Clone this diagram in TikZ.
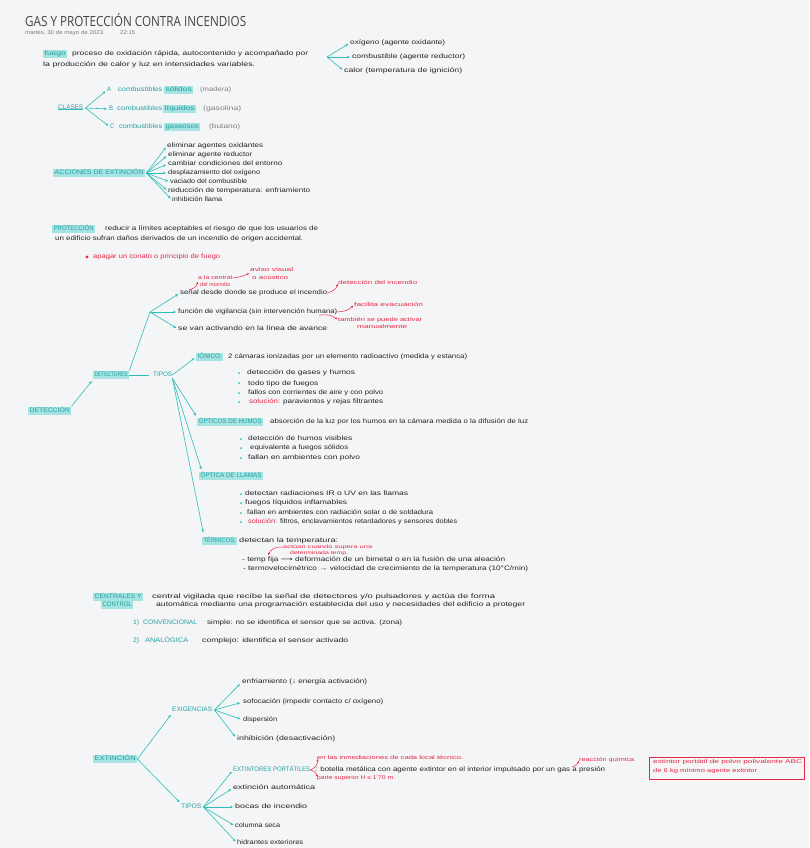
\documentclass[tikz,border=0pt]{standalone}
\usepackage{fontspec}
\usepackage{graphicx}
\setmainfont{Liberation Sans}
\newfontfamily\titlefont{Open Sans}
\newfontfamily\symfont{DejaVu Sans}
\usetikzlibrary{arrows.meta}
\definecolor{bgc}{RGB}{244,245,247}
\definecolor{tealc}{RGB}{45,190,186}
\definecolor{tealtx}{RGB}{35,160,160}
\definecolor{hlc}{RGB}{165,228,226}
\definecolor{redc}{RGB}{230,40,70}
\definecolor{inkc}{RGB}{35,35,35}
\definecolor{greyc}{RGB}{125,125,125}
\newcommand{\hw}[2]{\resizebox{#1pt}{\height}{#2}}
\newcommand{\handfont}{\fontsize{6.5}{7}\selectfont}
\newcommand{\smallhand}{\fontsize{5.5}{6}\selectfont}
\newcommand{\tinyhand}{\fontsize{4.8}{5}\selectfont}
\tikzset{
 tx/.style={anchor=west, inner sep=0pt, font=\handfont, text=inkc, text height=4.8pt, text depth=1.4pt},
 tt/.style={tx, text=tealtx},
 gt/.style={tx, text=greyc},
 rt/.style={tx, text=redc},
 rts/.style={tx, text=redc, font=\smallhand, text height=4pt, text depth=1.2pt},
 rtt/.style={tx, text=redc, font=\tinyhand, text height=3.5pt, text depth=1pt},
 hl/.style={anchor=west, fill=hlc, text=tealtx, inner xsep=1.5pt, inner ysep=1.2pt, font=\handfont, text height=5pt, text depth=1.5pt},
 arr/.style={draw=tealc, line width=0.6pt, -{Stealth[length=3pt,width=2.6pt]}, shorten >=2pt},
 ln/.style={draw=tealc, line width=0.6pt},
 rarr/.style={draw=redc, line width=0.5pt, -{Stealth[length=2.5pt,width=2.2pt]}, shorten >=1pt},
}
\begin{document}
\begin{tikzpicture}[x=1pt,y=-1pt]
\fill[bgc] (0,0) rectangle (809,848);
\useasboundingbox (0,0) rectangle (809,848);

% title
\node[anchor=west, inner sep=0pt, font=\titlefont\fontsize{14}{16}\selectfont, text=inkc!85] (title) at (25,20) {\hw{221}{GAS Y PROTECCIÓN CONTRA INCENDIOS}};
\node[anchor=west, inner sep=0pt, font=\fontsize{5.5}{6}\selectfont, text=greyc] (date) at (25,33) {\hw{78}{martes, 30 de mayo de 2023}};
\node[anchor=west, inner sep=0pt, font=\fontsize{5.5}{6}\selectfont, text=greyc] (hora) at (120,33) {\hw{15}{22:15}};

% fuego
\node[hl] (fuego) at (43,54) {\hw{21}{fuego}};
\node[tx] (fdef1) at (72,54) {\hw{236}{proceso de oxidación rápida, autocontenido y acompañado por}};
\node[tx] (fdef2) at (43,65) {\hw{212}{la producción de calor y luz en intensidades variables.}};
\coordinate (ffan) at (327,57);
\node[tx] (oxi) at (350,43) {\hw{95}{oxígeno (agente oxidante)}};
\node[tx] (comb) at (352,57) {\hw{113}{combustible (agente reductor)}};
\node[tx] (calor) at (344,71) {\hw{118}{calor (temperatura de ignición)}};
\draw[arr] (ffan) -- (oxi.west);
\draw[arr] (ffan) -- (comb.west);
\draw[arr] (ffan) -- (calor.west);

% clases
\node[tt] (clases) at (58,108) {\hw{25}{CLASES}};
\draw[ln] ([yshift=1.5pt]clases.south west) -- ([yshift=1.5pt]clases.south east);
\node[tt] (ca) at (107,90) {\hw{4}{A}};
\node[tt] (cb1) at (118,90) {\hw{44}{combustibles}};
\node[hl] (csol) at (164,90) {\hw{26}{sólidos}};
\node[gt] (cmad) at (200,90) {\hw{31}{(madera)}};
\node[tt] (cb) at (109,109) {\hw{4}{B}};
\node[tt] (cb2) at (117,109) {\hw{45}{combustibles}};
\node[hl] (cliq) at (163,109) {\hw{30}{líquidos}};
\node[gt] (cgas) at (203,109) {\hw{38}{(gasolina)}};
\node[tt] (cc) at (110,127) {\hw{4}{C}};
\node[tt] (cb3) at (119,127) {\hw{43}{combustibles}};
\node[hl] (cgs) at (164,127) {\hw{33}{gaseosos}};
\node[gt] (cbut) at (209,127) {\hw{31}{(butano)}};
\draw[arr] ([xshift=2pt]clases.east) -- (ca.west);
\draw[arr] ([xshift=2pt]clases.east) -- (cb.west);
\draw[arr] ([xshift=2pt]clases.east) -- (cc.west);

% acciones
\node[hl] (acc) at (53,173) {\hw{89}{ACCIONES DE EXTINCIÓN}};
\node[tx] (a1) at (167,146) {\hw{96}{eliminar agentes oxidantes}};
\node[tx] (a2) at (168,155) {\hw{84}{eliminar agente reductor}};
\node[tx] (a3) at (168,164) {\hw{114}{cambiar condiciones del entorno}};
\node[tx] (a4) at (168,173) {\hw{92}{desplazamiento del oxígeno}};
\node[tx] (a5) at (170,182) {\hw{77}{vaciado del combustible}};
\node[tx] (a6) at (168,191) {\hw{142}{reducción de temperatura: enfriamiento}};
\node[tx] (a7) at (172,200) {\hw{50}{inhibición llama}};
\foreach \n in {a1,a2,a3,a4,a5,a6,a7} \draw[arr] ([xshift=1pt]acc.east) -- (\n.west);

% proteccion
\node[hl] (prot) at (52,229) {\hw{40}{PROTECCIÓN}};
\node[tx] (pdef1) at (105,229) {\hw{213}{reducir a límites aceptables el riesgo de que los usuarios de}};
\node[tx] (pdef2) at (55,239) {\hw{248}{un edificio sufran daños derivados de un incendio de origen accidental.}};
\fill[redc] (87,257) circle (1.6pt);
\node[rt] (apagar) at (93,257) {\hw{127}{apagar un conato o principio de fuego}};

% deteccion
\node[hl] (detc) at (28,411) {\hw{40}{DETECCIÓN}};
\node[hl] (det) at (93,375) {\hw{33}{DETECTORES}};
\node[tt] (tipos) at (153,375) {\hw{19}{TIPOS}};
\draw[arr] (detc.north east) -- (det.south west);
\draw[ln, shorten >=4pt] (det.east) -- (tipos.west);
\coordinate (detfan) at (150,312);
\draw[ln] (det.north east) -- (detfan);
\node[tx] (sen) at (180,293) {\hw{147}{señal desde donde se produce el incendio}};
\node[tx] (func) at (178,312) {\hw{159}{función de vigilancia (sin intervención humana)}};
\node[tx] (sevan) at (178,329) {\hw{149}{se van activando en la línea de avance}};
\draw[arr] (detfan) -- (sen.west);
\draw[arr] (detfan) -- (func.west);
\draw[arr] (detfan) -- (sevan.west);
\node[rts] (alc1) at (198,278) {\hw{34}{a la central}};
\node[rts] (alc2) at (200,285) {\hw{30}{del incendio}};
\node[rts] (avi1) at (250,270) {\hw{43}{aviso visual}};
\node[rts] (avi2) at (252,278) {\hw{36}{o acústico}};
\node[rts] (deti) at (338,283) {\hw{79}{detección del incendio}};
\node[rts] (fac) at (354,305) {\hw{69}{facilita evacuación}};
\node[rts] (tam1) at (338,320) {\hw{84}{también se puede activar}};
\node[rts] (tam2) at (357,327) {\hw{50}{manualmente}};
\draw[rarr] ([xshift=10pt]sen.north west) to[bend right=30] (alc1.south west);
\draw[rarr] (alc1.east) to[bend right=10] (avi1.south west);
\draw[rarr] (sen.east) to[bend right=30] (deti.west);
\draw[rarr] (func.east) to[bend right=20] (fac.west);
\draw[rarr] ([xshift=-18pt]func.south east) to[bend left=25] (tam1.west);

% tipos de detectores
\node[hl] (ion) at (196,357) {\hw{24}{IÓNICO:}};
\node[tx] (iond) at (228,357) {\hw{239}{2 cámaras ionizadas por un elemento radioactivo (medida y estanca)}};
\node[hl] (opth) at (197,422) {\hw{63}{ÓPTICOS DE HUMOS}};
\node[tx] (opthd) at (270,422) {\hw{258}{absorción de la luz por los humos en la cámara medida o la difusión de luz}};
\node[hl] (optl) at (199,476) {\hw{61}{ÓPTICA DE LLAMAS}};
\node[hl] (term) at (202,541) {\hw{32}{TÉRMICOS:}};
\node[tx] (termd) at (239,541) {\hw{99}{detectan la temperatura:}};
\draw[arr] (tipos.east) -- (ion.west);
\draw[arr] (tipos.south east) -- (opth.north west);
\draw[arr] (tipos.south east) -- ([xshift=3pt]optl.north west);
\draw[arr, shorten >=4pt] (tipos.south east) -- ([xshift=2pt]term.north west);

\foreach \y in {373,383,393,402} \fill[tealc] (239,\y) circle (1pt);
\node[tx] (i1) at (247,373) {\hw{108}{detección de gases y humos}};
\node[tx] (i2) at (248,384) {\hw{70}{todo tipo de fuegos}};
\node[tx] (i3) at (248,393) {\hw{135}{fallos con corrientes de aire y con polvo}};
\node[rt] (i4a) at (249,402) {\hw{31}{solución:}};
\node[tx] (i4b) at (283,402) {\hw{100}{paravientos y rejas filtrantes}};

\foreach \y in {439,448,458} \fill[tealc] (241,\y) circle (1pt);
\node[tx] (h1) at (248,439) {\hw{104}{detección de humos visibles}};
\node[tx] (h2) at (250,448) {\hw{98}{equivalente a fuegos sólidos}};
\node[tx] (h3) at (248,458) {\hw{112}{fallan en ambientes con polvo}};

\foreach \y in {494,503,513,522} \fill[tealc] (241,\y) circle (1pt);
\node[tx] (l1) at (245,494) {\hw{163}{detectan radiaciones IR o UV en las llamas}};
\node[tx] (l2) at (245,503) {\hw{102}{fuegos líquidos inflamables}};
\node[tx] (l3) at (247,513) {\hw{186}{fallan en ambientes con radiación solar o de soldadura}};
\node[rt] (l4a) at (248,522) {\hw{29}{solución:}};
\node[tx] (l4b) at (280,522) {\hw{177}{filtros, enclavamientos retardadores y sensores dobles}};

\node[rtt] (act1) at (283,547) {\hw{89}{actúan cuando supera una}};
\node[rtt] (act2) at (290,553) {\hw{58}{determinada temp.}};
\node[tx] (t1) at (242,560) {\hw{263}{- temp fija {\symfont ⟶} deformación de un bimetal o en la fusión de una aleación}};
\node[tx] (t2) at (243,569) {\hw{285}{- termovelocimétrico → velocidad de crecimiento de la temperatura (10°C/min)}};
\coordinate (fija) at (268,556);
\draw[rarr] (act1.west) to[bend right=40] (fija);

% centrales
\node[hl] (cen1) at (93,597) {\hw{47}{CENTRALES Y}};
\node[hl] (cen2) at (101,605) {\hw{29}{CONTROL}};
\node[tx] (cend1) at (152,597) {\hw{343}{central vigilada que recibe la señal de detectores y/o pulsadores y actúa de forma}};
\node[tx] (cend2) at (156,605) {\hw{369}{automática mediante una programación establecida del uso y necesidades del edificio a proteger}};
\node[tt] (n1) at (133,623) {\hw{6}{1)}};
\node[tt] (conv) at (143,623) {\hw{54}{CONVENCIONAL}};
\node[tx] (convd) at (207,623) {\hw{195}{simple: no se identifica el sensor que se activa. (zona)}};
\node[tt] (n2) at (133,641) {\hw{6}{2)}};
\node[tt] (anal) at (145,641) {\hw{43}{ANALÓGICA}};
\node[tx] (anald) at (202,641) {\hw{146}{complejo: identifica el sensor activado}};

% extincion
\node[hl] (ext) at (93,759) {\hw{41}{EXTINCIÓN}};
\node[tt] (exig) at (172,710) {\hw{40}{EXIGENCIAS}};
\node[tt] (tip2) at (181,807) {\hw{20}{TIPOS}};
\draw[arr] (ext.east) -- (exig.south west);
\draw[arr] (ext.east) -- (tip2.north west);
\node[tx] (e1) at (242,682) {\hw{125}{enfriamiento (↓ energía activación)}};
\node[tx] (e2) at (243,702) {\hw{140}{sofocación (impedir contacto c/ oxígeno)}};
\node[tx] (e3) at (243,720) {\hw{34}{dispersión}};
\node[tx] (e4) at (237,739) {\hw{98}{inhibición (desactivación)}};
\foreach \n in {e1,e2,e3,e4} \draw[arr, shorten >=3pt] ([xshift=2pt]exig.east) -- (\n.west);

\node[tt] (extp) at (233,770) {\hw{77}{EXTINTORES PORTÁTILES}};
\node[tx] (bot) at (315,770) {\hw{290}{: botella metálica con agente extintor en el interior impulsado por un gas a presión}};
\node[tx] (x2) at (233,788) {\hw{82}{extinción automática}};
\node[tx] (x3) at (235,807) {\hw{72}{bocas de incendio}};
\node[tx] (x4) at (235,826) {\hw{45}{columna seca}};
\node[tx] (x5) at (237,843) {\hw{66}{hidrantes exteriores}};
\foreach \n in {extp,x2,x3,x4,x5} \draw[arr] ([xshift=2pt]tip2.east) -- (\n.west);
\node[rts] (inm) at (317,758) {\hw{146}{en las inmediaciones de cada local técnico.}};
\node[rts] (parte) at (317,778) {\hw{76}{parte superior H ≤ 1'70 m}};
\node[rts] (rq) at (579,760) {\hw{55}{reacción química}};
\draw[rarr] (extp.east) to[bend right=40] (inm.west);
\draw[rarr] (extp.east) to[bend left=40] (parte.west);
\draw[rarr] ([xshift=-33pt]bot.north east) to[bend right=30] (rq.west);

\node[draw=redc, line width=0.8pt, anchor=north west, minimum width=155pt, minimum height=22pt, inner sep=0pt] (rbox) at (649,757) {};
\node[rts] (rb1) at (653,762) {\hw{149}{extintor portátil de polvo polivalente ABC}};
\node[rts] (rb2) at (653,771) {\hw{104}{de 6 kg mínimo agente extintor}};
\end{tikzpicture}
\end{document}
